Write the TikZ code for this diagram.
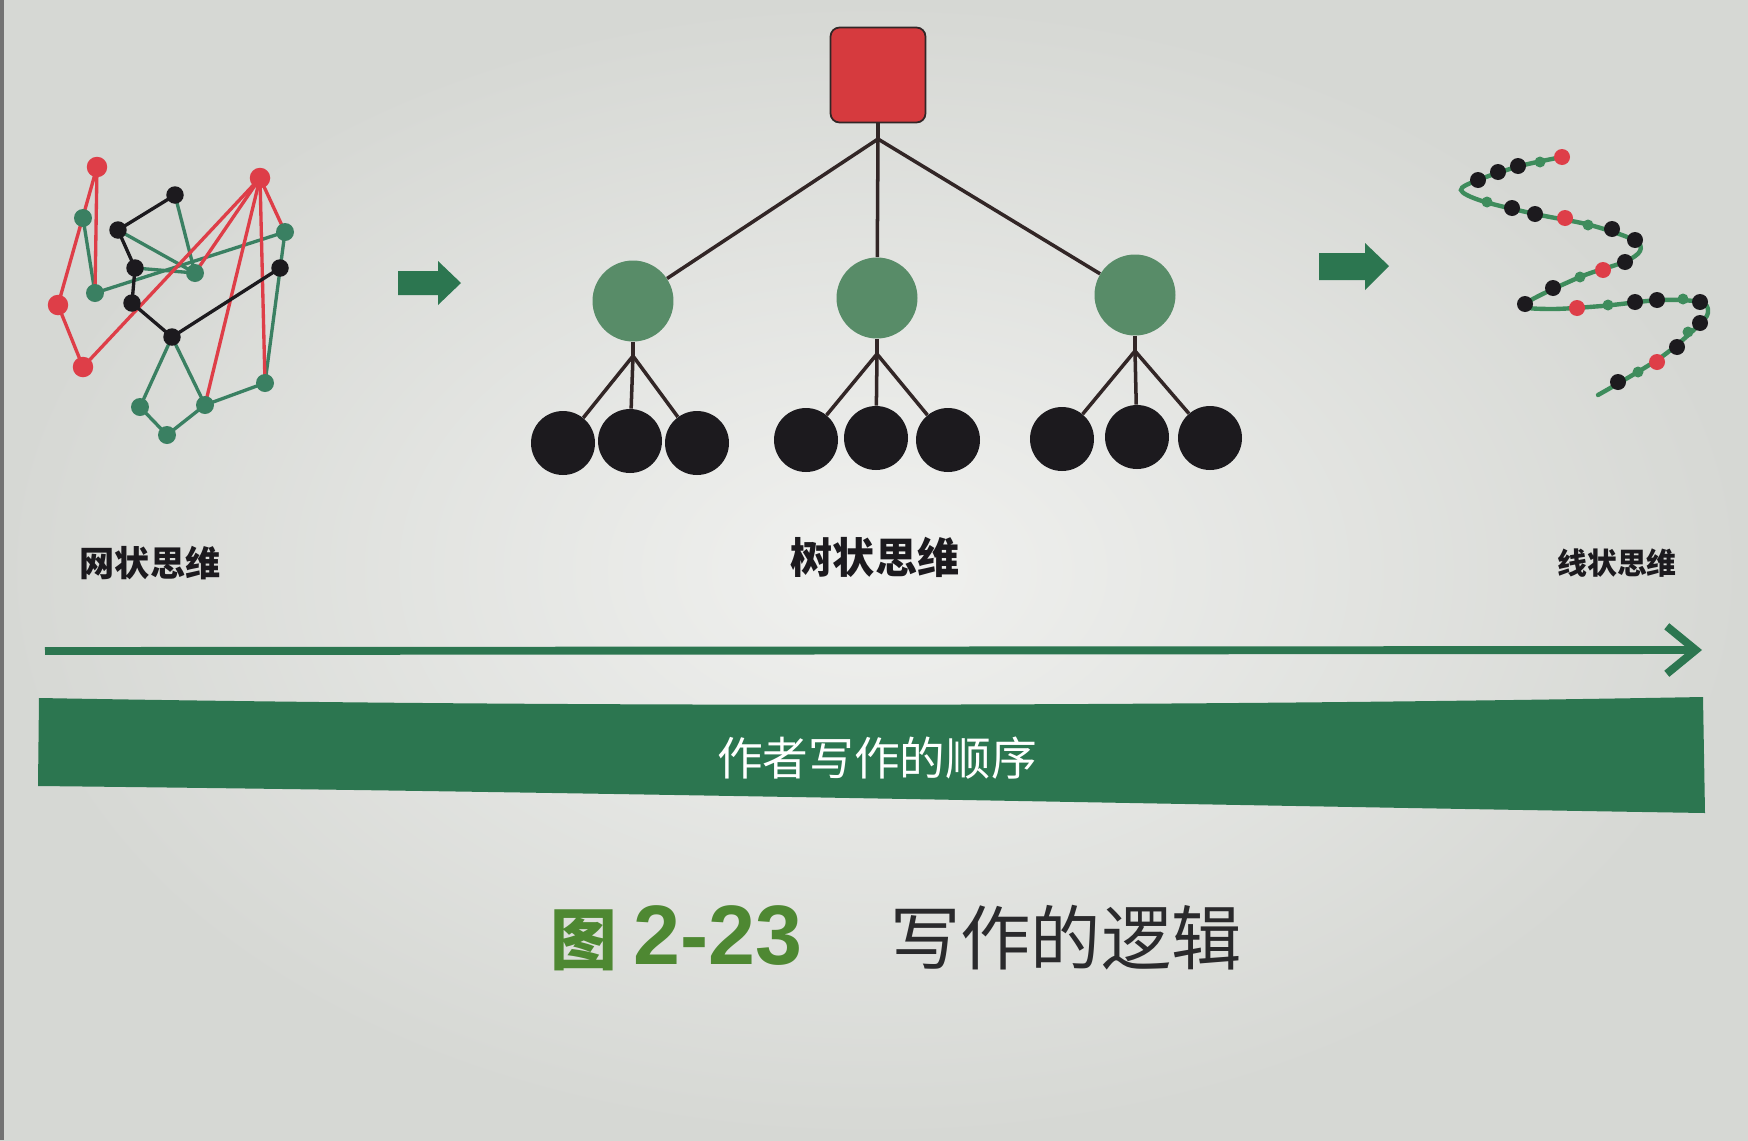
\documentclass[tikz,border=0pt]{standalone}
\usepackage{fontspec}
\setmainfont{Noto Sans CJK SC}
\newfontfamily\latinf{Liberation Sans}
\usetikzlibrary{arrows.meta}
\definecolor{paper}{RGB}{231,232,229}
\definecolor{paperedge}{RGB}{214,216,212}
\definecolor{netred}{RGB}{222,62,72}
\definecolor{netgreen}{RGB}{58,128,98}
\definecolor{netblack}{RGB}{28,26,30}
\definecolor{treered}{RGB}{214,58,62}
\definecolor{treegreen}{RGB}{88,140,104}
\definecolor{treeline}{RGB}{50,38,38}
\definecolor{bandgreen}{RGB}{44,118,80}
\definecolor{capgreen}{RGB}{78,136,50}
\definecolor{capblack}{RGB}{42,42,44}
\definecolor{beadgreen}{RGB}{62,140,92}
\begin{document}
\begin{tikzpicture}[x=0.02cm,y=-0.02cm,
  redline/.style={line width=1.9pt,netred},
  greenline/.style={line width=1.9pt,netgreen},
  blackline/.style={line width=1.9pt,netblack},
  nred/.style={circle,fill=netred,inner sep=0pt,minimum size=0.41cm},
  ngreen/.style={circle,fill=netgreen,inner sep=0pt,minimum size=0.36cm},
  nblack/.style={circle,fill=netblack,inner sep=0pt,minimum size=0.35cm},
  mid/.style={circle,fill=treegreen,inner sep=0pt,minimum size=1.62cm},
  leaf/.style={circle,fill=netblack,inner sep=0pt,minimum size=1.28cm},
  tline/.style={line width=2pt,treeline},
  bk/.style={circle,fill=netblack,inner sep=0pt,minimum size=0.32cm},
  br/.style={circle,fill=netred,inner sep=0pt,minimum size=0.32cm},
  bg/.style={circle,fill=beadgreen,inner sep=0pt,minimum size=0.22cm},
  label/.style={text=netblack,inner sep=0pt},
  blockarrow/.style={fill=bandgreen}
]
\useasboundingbox (0,0) rectangle (1748,1140);
\shade[inner color=paper!60!white, outer color=paperedge] (0,0) rectangle (1748,1140);
\fill[black!55] (0,0) rectangle (4,1140);

% ---------------- network ----------------
\coordinate (R1) at (97,167);
\coordinate (R2) at (260,178);
\coordinate (R3) at (58,305);
\coordinate (R4) at (83,367);
\coordinate (G1) at (83,218);
\coordinate (G2) at (95,293);
\coordinate (G3) at (195,273);
\coordinate (G4) at (285,232);
\coordinate (G5) at (140,407);
\coordinate (G6) at (205,405);
\coordinate (G7) at (265,383);
\coordinate (G8) at (167,435);
\coordinate (K1) at (175,195);
\coordinate (K2) at (118,230);
\coordinate (K3) at (135,268);
\coordinate (K4) at (132,303);
\coordinate (K5) at (172,337);
\coordinate (K6) at (280,268);

\draw[greenline] (G1) -- (G2);
\draw[greenline] (G2) -- (G4);
\draw[greenline] (K3) -- (G3);
\draw[greenline] (K2) -- (G3);
\draw[greenline] (K1) -- (G3);
\draw[greenline] (G4) -- (G7);
\draw[greenline] (K5) -- (G5);
\draw[greenline] (K5) -- (G6);
\draw[greenline] (G5) -- (G8);
\draw[greenline] (G8) -- (G6);
\draw[greenline] (G6) -- (G7);
\draw[redline] (R1) -- (R3);
\draw[redline] (R1) -- (G2);
\draw[redline] (R3) -- (R4);
\draw[redline] (R4) -- (R2);
\draw[redline] (R2) -- (G3);
\draw[redline] (R2) -- (G6);
\draw[redline] (R2) -- (G7);
\draw[redline] (R2) -- (G4);
\draw[blackline] (K1) -- (K2);
\draw[blackline] (K2) -- (K3);
\draw[blackline] (K3) -- (K4);
\draw[blackline] (K4) -- (K5);
\draw[blackline] (K5) -- (K6);

\foreach \n in {R1,R2,R3,R4} \node[nred] (\n n) at (\n) {};
\foreach \n in {G1,G2,G3,G4,G5,G6,G7,G8} \node[ngreen] (\n n) at (\n) {};
\foreach \n in {K1,K2,K3,K4,K5,K6} \node[nblack] (\n n) at (\n) {};

% ---------------- block arrows ----------------
\fill[blockarrow] (398,271) -- (438,271) -- (438,261) -- (461,283) -- (438,305) -- (438,295) -- (398,295) -- cycle;
\fill[blockarrow] (1319,253) -- (1365,253) -- (1365,243) -- (1389,266) -- (1365,290) -- (1365,280) -- (1319,280) -- cycle;

% ---------------- tree ----------------
\node[draw=treeline,line width=1pt,fill=treered,rounded corners=0.18cm,minimum size=1.9cm,inner sep=0pt] (root) at (878,75) {};
\coordinate (j0) at (878,139);
\node[mid] (c1) at (633,301) {};
\node[mid] (c2) at (877,298) {};
\node[mid] (c3) at (1135,295) {};
\coordinate (j1) at (633,356);
\coordinate (j2) at (877,354);
\coordinate (j3) at (1135,351);
\node[leaf] (l1) at (563,443) {};
\node[leaf] (l2) at (630,441) {};
\node[leaf] (l3) at (697,443) {};
\node[leaf] (l4) at (806,440) {};
\node[leaf] (l5) at (876,438) {};
\node[leaf] (l6) at (948,440) {};
\node[leaf] (l7) at (1062,439) {};
\node[leaf] (l8) at (1137,437) {};
\node[leaf] (l9) at (1210,438) {};
\draw[tline] (root) -- (j0);
\draw[tline] (j0) -- (c1);
\draw[tline] (j0) -- (c2);
\draw[tline] (j0) -- (c3);
\draw[tline] (c1) -- (j1);
\draw[tline] (c2) -- (j2);
\draw[tline] (c3) -- (j3);
\draw[tline] (j1) -- (l1);
\draw[tline] (j1) -- (l2);
\draw[tline] (j1) -- (l3);
\draw[tline] (j2) -- (l4);
\draw[tline] (j2) -- (l5);
\draw[tline] (j2) -- (l6);
\draw[tline] (j3) -- (l7);
\draw[tline] (j3) -- (l8);
\draw[tline] (j3) -- (l9);

% ---------------- helix ----------------
\draw[line width=2.5pt,beadgreen,line cap=round] plot[smooth,tension=0.55] coordinates {
 (1562,157) (1520,166) (1478,180) (1461,190) (1482,201) (1535,214) (1590,225) (1634,240)
 (1640,251) (1624,262) (1580,277) (1525,304) (1548,309) (1602,306) (1660,300) (1700,302)
 (1708,311) (1700,324) (1660,358) (1598,395)};
\node[bg] (h1) at (1540,162) {};
\node[bg] (h2) at (1487,202) {};
\node[bg] (h3) at (1588,225) {};
\node[bg] (h4) at (1580,277) {};
\node[bg] (h5) at (1608,305) {};
\node[bg] (h6) at (1683,299) {};
\node[bg] (h7) at (1688,332) {};
\node[bg] (h8) at (1638,372) {};
\node[br] (r1) at (1562,157) {};
\node[br] (r2) at (1565,218) {};
\node[br] (r3) at (1603,270) {};
\node[br] (r4) at (1577,308) {};
\node[br] (r5) at (1657,362) {};
\node[bk] (k1) at (1518,166) {};
\node[bk] (k2) at (1498,172) {};
\node[bk] (k3) at (1478,180) {};
\node[bk] (k4) at (1512,208) {};
\node[bk] (k5) at (1535,214) {};
\node[bk] (k6) at (1612,229) {};
\node[bk] (k7) at (1635,240) {};
\node[bk] (k8) at (1625,262) {};
\node[bk] (k9) at (1553,288) {};
\node[bk] (k10) at (1525,304) {};
\node[bk] (k11) at (1635,302) {};
\node[bk] (k12) at (1657,300) {};
\node[bk] (k13) at (1700,302) {};
\node[bk] (k14) at (1700,323) {};
\node[bk] (k15) at (1677,347) {};
\node[bk] (k16) at (1618,382) {};

% ---------------- labels ----------------
\node[label,font=\fontsize{20pt}{20pt}\selectfont\bfseries] (lnet) at (150,563) {网状思维};
\node[label,font=\fontsize{24pt}{24pt}\selectfont\bfseries] (ltree) at (875,557) {树状思维};
\node[label,font=\fontsize{17pt}{17pt}\selectfont\bfseries] (lline) at (1617,563) {线状思维};

% ---------------- long arrow ----------------
\coordinate (as) at (45,651);
\coordinate (ae) at (1702,650);
\draw[line width=4.5pt,bandgreen,-{Straight Barb[length=0.58cm,width=0.95cm,line width=4.5pt]}] (as) -- (ae);

% ---------------- band ----------------
\fill[bandgreen] (39,698) .. controls (600,708) and (1200,706) .. (1703,697)
  -- (1705,813) .. controls (1200,805) and (600,792) .. (38,786) -- cycle;
\node[text=white,inner sep=0pt,font=\fontsize{26pt}{26pt}\selectfont] (bandtext) at (877,758) {作者写作的顺序};

% ---------------- caption ----------------
\node[text=capgreen,inner sep=0pt,anchor=base west,font=\fontsize{38pt}{38pt}\selectfont\bfseries] (capnum) at (550,964) {图\hspace{0.25em}{\latinf\fontsize{48pt}{48pt}\selectfont 2-23}};
\node[text=capblack,inner sep=0pt,anchor=base west,font=\fontsize{40pt}{40pt}\selectfont] (captxt) at (890,964) {写作的逻辑};
\end{tikzpicture}
\end{document}
